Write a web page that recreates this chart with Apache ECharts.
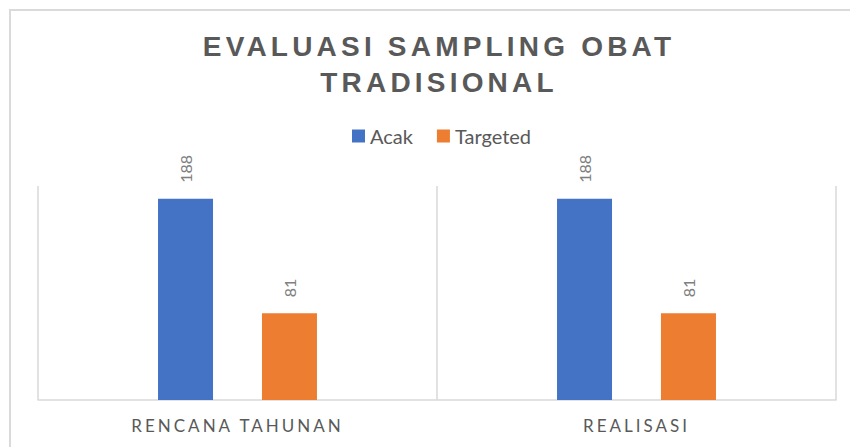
<!DOCTYPE html>
<html>
<head>
<meta charset="utf-8">
<script src="https://cdn.jsdelivr.net/npm/echarts@6/dist/echarts.min.js"></script>
<style>
  html, body { margin: 0; padding: 0; background: #fff; }
  #chart { width: 850px; height: 447px; }
  #chart text[style*="Arimo"], #chart text[font-family*="Arimo"] { letter-spacing: 4.2px; }
  #chart text[style*="Carlito"], #chart text[font-family*="Carlito"] { letter-spacing: 3px; }
</style>
</head>
<body>
<div id="chart"></div>
<script>
const titleText = 'EVALUASI SAMPLING OBAT\nTRADISIONAL';
const categories = ['RENCANA TAHUNAN', 'REALISASI'];
const seriesNames = ['Acak', 'Targeted'];
const acakValues = [188, 188];
const targetedValues = [81, 81];
const yMax = 200;

const chart = echarts.init(document.getElementById('chart'), null, { renderer: 'svg' });

const valueLabel = {
  show: true,
  position: 'top',
  rotate: 90,
  align: 'left',
  verticalAlign: 'middle',
  distance: 16,
  color: '#7f7f7f',
  fontSize: 16,
  fontFamily: 'Lato'
};

chart.setOption({
  backgroundColor: '#ffffff',
  animation: false,
  graphic: [{
    type: 'rect',
    silent: true,
    z: -10,
    shape: { x: 10, y: 10, width: 900, height: 500 },
    style: { fill: 'none', stroke: '#dadada', lineWidth: 2 }
  }],
  title: {
    text: titleText,
    left: 434,
    textAlign: 'center',
    top: 23,
    textStyle: {
      color: '#595959',
      fontSize: 28,
      fontWeight: 'bold',
      lineHeight: 36,
      fontFamily: 'Liberation Sans, Arimo'
    }
  },
  legend: {
    data: seriesNames,
    left: 347,
    top: 121,
    icon: 'rect',
    itemWidth: 13,
    itemHeight: 13,
    itemGap: 24,
    textStyle: { color: '#595959', fontSize: 20, fontFamily: 'Lato' }
  },
  grid: { left: 38, right: 14, top: 186, bottom: 47, containLabel: false },
  xAxis: {
    type: 'category',
    data: categories,
    axisLine: { show: true, lineStyle: { color: '#d9d9d9', width: 1.5 } },
    axisTick: { show: false },
    splitLine: { show: true, lineStyle: { color: '#d9d9d9', width: 1.5 } },
    axisLabel: {
      color: '#595959',
      fontSize: 17,
      margin: 17,
      fontFamily: 'Lato, Carlito'
    }
  },
  yAxis: {
    type: 'value',
    min: 0,
    max: yMax,
    show: false,
    splitLine: { show: false }
  },
  series: [
    {
      name: seriesNames[0],
      type: 'bar',
      data: acakValues,
      barWidth: 55,
      barGap: '89%',
      itemStyle: { color: '#4472c4' },
      label: valueLabel
    },
    {
      name: seriesNames[1],
      type: 'bar',
      data: targetedValues,
      barWidth: 55,
      barGap: '89%',
      itemStyle: { color: '#ed7d31' },
      label: valueLabel
    }
  ]
});
</script>
</body>
</html>
